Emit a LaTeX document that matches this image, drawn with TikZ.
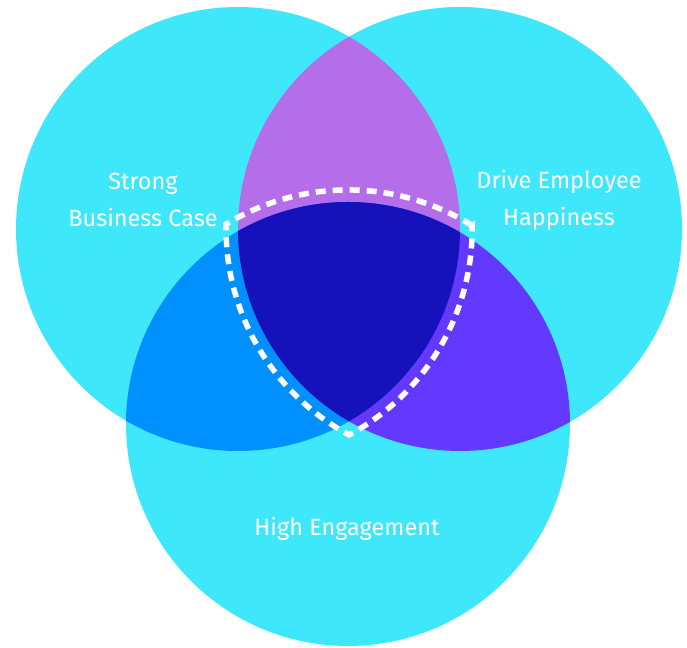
\documentclass[tikz,border=0pt]{standalone}
\usepackage{fontspec}
\setmainfont{Fira Sans}
\definecolor{vcyan}{HTML}{3EE8FA}
\definecolor{vpurple}{HTML}{B46EEA}
\definecolor{vblue}{HTML}{0090FF}
\definecolor{vviolet}{HTML}{6338FF}
\definecolor{vdark}{HTML}{1511BB}
\tikzset{
	label text/.style={text=white, font=\fontsize{23.5}{37}\selectfont, align=center},
	core line/.style={draw=white, line width=5.5pt, dash pattern=on 10pt off 7pt}
}
\begin{document}
\begin{tikzpicture}[x=1pt, y=1pt]
	\useasboundingbox (0,0) rectangle (687,647);
	\coordinate (biz) at (238,418);
	\coordinate (happy) at (460,418);
	\coordinate (engage) at (348,223);

	\coordinate (tr) at (472,421.5);

	\fill[vcyan] (biz) circle (222pt);
	\fill[vcyan] (happy) circle (222pt);
	\fill[vcyan] (engage) circle (222pt);

	\begin{scope}
		\clip (biz) circle (222pt);
		\fill[vpurple] (happy) circle (222pt);
		\fill[vblue] (engage) circle (222pt);
	\end{scope}
	\begin{scope}
		\clip (happy) circle (222pt);
		\fill[vviolet] (engage) circle (222pt);
	\end{scope}
	\begin{scope}
		\clip (biz) circle (222pt);
		\clip (happy) circle (222pt);
		\fill[vdark] (engage) circle (222pt);
	\end{scope}

	% outline round the middle
	\draw[core line] (tr) arc[start angle=58, end angle=121.4, radius=234pt]
		arc[start angle=178.85, end angle=241.7, radius=234pt]
		arc[start angle=-61.7, end angle=0.86, radius=234pt] -- cycle;

	\node[label text] (bizlbl) at (143,447) {Strong\\Business Case};
	\node[label text] (happylbl) at (559,447) {Drive Employee\\Happiness};
	\node[label text] (engagelbl) at (347,118) {High Engagement};
\end{tikzpicture}
\end{document}
